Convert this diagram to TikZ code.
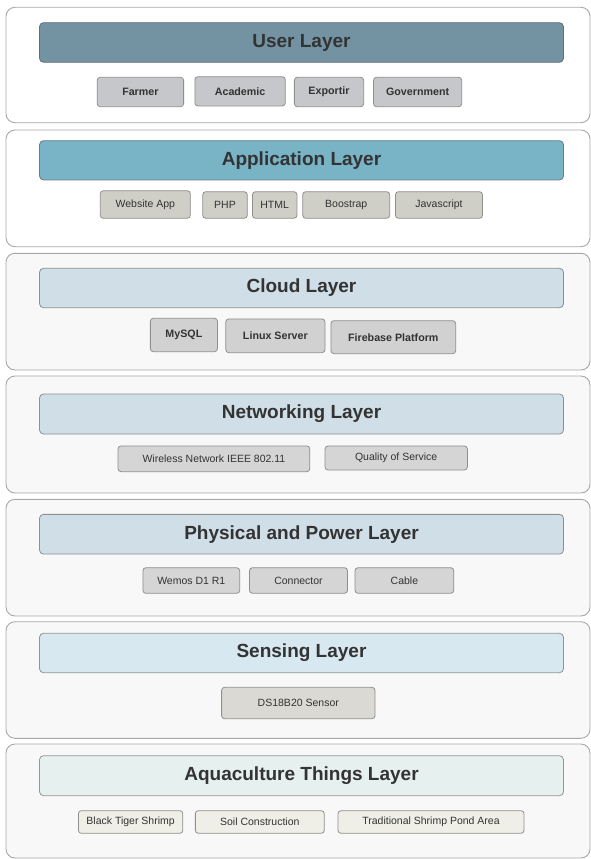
\documentclass[tikz,border=0pt]{standalone}
\usepackage{fontspec}
\setmainfont{Liberation Sans}
\definecolor{txt}{HTML}{333333}
\definecolor{panelbd}{HTML}{A8A8A8}
\definecolor{panelbg}{HTML}{F8F8F8}
\definecolor{hduser}{HTML}{7393A3}
\definecolor{hdapp}{HTML}{79B3C6}
\definecolor{hdmid}{HTML}{D0DEE7}
\definecolor{hdsens}{HTML}{D8E8F1}
\definecolor{hdaqua}{HTML}{E6F0EF}
\definecolor{bxuser}{HTML}{C6C7CA}
\definecolor{bxapp}{HTML}{CFCFC7}
\definecolor{bxcloud}{HTML}{D2D1D2}
\definecolor{bxnet}{HTML}{D5D5D5}
\definecolor{bxsens}{HTML}{DAD9D3}
\definecolor{bxaqua}{HTML}{EFEFE7}
\definecolor{bxbd}{HTML}{8F8F8F}
\tikzset{
  panel/.style={draw=panelbd, line width=0.9pt, rounded corners=9pt},
  header/.style={draw=#1!70!black!60!gray, line width=0.8pt, rounded corners=4pt, fill=#1, text=txt,
    font=\fontsize{19}{21}\selectfont\bfseries, inner sep=0pt, minimum width=524, anchor=center},
  box/.style={draw=bxbd, line width=0.8pt, rounded corners=3pt, fill=#1, text=txt,
    font=\fontsize{10.5}{12}\selectfont, inner sep=0pt, anchor=center},
  bbox/.style={box=#1, font=\fontsize{10.7}{12}\selectfont\bfseries},
}
\begin{document}
\begin{tikzpicture}[x=1pt,y=-1pt]
\useasboundingbox (0,0) rectangle (591,859);
\fill[white] (0,0) rectangle (591,859);
% panels
\draw[panel, fill=white] (6,7.3) rectangle (590,122.7);
\draw[panel, fill=white] (6,130) rectangle (590,246.7);
\draw[panel, fill=panelbg] (6,253.3) rectangle (590,370);
\draw[panel, fill=panelbg] (6,376) rectangle (590,493);
\draw[panel, fill=panelbg] (6,499.3) rectangle (590,616);
\draw[panel, fill=panelbg] (6,621.7) rectangle (590,738.3);
\draw[panel, fill=panelbg] (6,744) rectangle (590,858);
% headers
\node[header=hduser, minimum height=39.6] (huser) at (301.5,42.5) {User Layer};
\node[header=hdapp, minimum height=39.3] (happ) at (301.5,160.3) {Application Layer};
\node[header=hdmid, minimum height=39.4] (hcloud) at (301.5,288) {Cloud Layer};
\node[header=hdmid, minimum height=40] (hnet) at (301.5,414) {Networking Layer};
\node[header=hdmid, minimum height=39.7] (hphys) at (301.5,534.2) {Physical and Power Layer};
\node[header=hdsens, minimum height=39.4] (hsens) at (301.5,653) {Sensing Layer};
\node[header=hdaqua, minimum height=40] (haqua) at (301.5,775.7) {Aquaculture Things Layer};
% user layer
\node[bbox=bxuser, minimum width=86.4, minimum height=29.4] (farmer) at (140.4,92) {Farmer};
\node[bbox=bxuser, minimum width=90.4, minimum height=29.3] (academic) at (240.1,91.3) {Academic};
\node[bbox=bxuser, minimum width=69.3, minimum height=29.4] (exportir) at (329,92) {Exportir};
\node[bbox=bxuser, minimum width=88.2, minimum height=29.4] (gov) at (417.6,92) {Government};
% application layer
\node[box=bxapp, minimum width=90, minimum height=27.6] (web) at (145.3,204.5) {Website App};
\node[box=bxapp, minimum width=44.5, minimum height=26.6] (php) at (225,205) {PHP};
\node[box=bxapp, minimum width=44.5, minimum height=26.6] (html) at (274.7,205) {HTML};
\node[box=bxapp, minimum width=87, minimum height=26.6] (boot) at (346.2,205) {Boostrap};
\node[box=bxapp, minimum width=87.1, minimum height=26.6] (js) at (439,205) {Javascript};
% cloud layer
\node[bbox=bxcloud, minimum width=67.1, minimum height=33.4] (mysql) at (183.9,335) {MySQL};
\node[bbox=bxcloud, minimum width=99.2, minimum height=33.7] (linux) at (275.4,335.8) {Linux Server};
\node[bbox=bxcloud, minimum width=124.7, minimum height=33] (fire) at (393.3,337.2) {Firebase Platform};
% networking layer
\node[box=bxnet, minimum width=191.8, minimum height=25.7] (wifi) at (213.9,458.8) {Wireless Network IEEE 802.11};
\node[box=bxnet, minimum width=142.4, minimum height=24] (qos) at (396.2,458) {Quality of Service};
% physical layer
\node[box=bxnet, minimum width=96.8, minimum height=25.6] (wemos) at (191.3,580.5) {Wemos D1 R1};
\node[box=bxnet, minimum width=98, minimum height=25.6] (conn) at (298.5,580.5) {Connector};
\node[box=bxnet, minimum width=98.8, minimum height=25.6] (cable) at (404.4,580.5) {Cable};
% sensing layer
\node[box=bxsens, minimum width=153.4, minimum height=31.4] (ds) at (298.3,703) {DS18B20 Sensor};
% aquaculture layer
\node[box=bxaqua, minimum width=104.4, minimum height=22.6] (tiger) at (130.6,822) {Black Tiger Shrimp};
\node[box=bxaqua, minimum width=128.9, minimum height=22.6] (soil) at (259.8,822) {Soil Construction};
\node[box=bxaqua, minimum width=186, minimum height=22.6] (pond) at (431,822) {Traditional Shrimp Pond Area};
\end{tikzpicture}
\end{document}
